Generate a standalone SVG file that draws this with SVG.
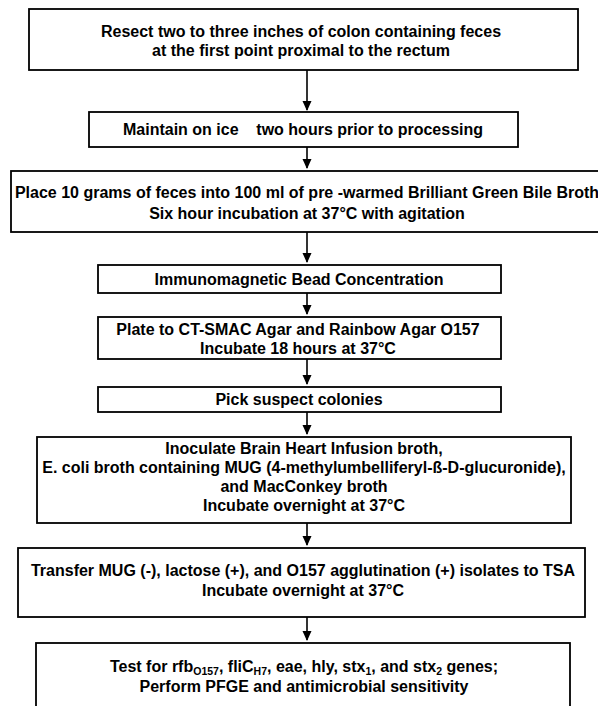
<svg xmlns="http://www.w3.org/2000/svg" width="598" height="706" viewBox="0 0 598 706">
<style>
.box{fill:#fff;stroke:#000;stroke-width:1.8}
.t{font-family:"Liberation Sans",Arial,sans-serif;font-weight:bold;font-size:16px;fill:#000;text-anchor:middle}
.sub{font-size:10.5px}
.c{stroke:#000;stroke-width:1.6;fill:none}
</style>
<defs>
<marker id="ah" markerWidth="10" markerHeight="10" refX="9" refY="5" orient="auto" markerUnits="userSpaceOnUse">
<path d="M0,0.5 L10,5 L0,9.5 Z" fill="#000"/>
</marker>
</defs>
<rect width="598" height="706" fill="#fff"/>
<g id="connectors">
<line class="c" x1="307" y1="70" x2="307" y2="110" marker-end="url(#ah)"/>
<line class="c" x1="307" y1="147" x2="307" y2="168" marker-end="url(#ah)"/>
<line class="c" x1="307" y1="232" x2="307" y2="262" marker-end="url(#ah)"/>
<line class="c" x1="307" y1="293" x2="307" y2="314" marker-end="url(#ah)"/>
<line class="c" x1="307" y1="359" x2="307" y2="384" marker-end="url(#ah)"/>
<line class="c" x1="307" y1="412" x2="307" y2="434" marker-end="url(#ah)"/>
<line class="c" x1="307" y1="523" x2="307" y2="545" marker-end="url(#ah)"/>
<line class="c" x1="307" y1="617" x2="307" y2="640" marker-end="url(#ah)"/>
</g>
<g id="n1">
<rect class="box" x="29" y="9" width="549" height="61"/>
<text class="t" x="301" y="37">Resect two to three inches of colon containing feces</text>
<text class="t" x="301" y="56">at the first point proximal to the rectum</text>
</g>
<g id="n2">
<rect class="box" x="89" y="112" width="429" height="35"/>
<text class="t" x="303" y="135" xml:space="preserve">Maintain on ice    two hours prior to processing</text>
</g>
<g id="n3">
<rect class="box" x="11" y="171" width="596" height="61"/>
<text class="t" x="307" y="198">Place 10 grams of feces into 100 ml of pre -warmed Brilliant Green Bile Broth</text>
<text class="t" x="307" y="219">Six hour incubation at 37°C with agitation</text>
</g>
<g id="n4">
<rect class="box" x="98" y="265" width="403" height="28"/>
<text class="t" x="299" y="285">Immunomagnetic Bead Concentration</text>
</g>
<g id="n5">
<rect class="box" x="98" y="317" width="403" height="42"/>
<text class="t" x="298" y="335">Plate to CT-SMAC Agar and Rainbow Agar O157</text>
<text class="t" x="298" y="354">Incubate 18 hours at 37°C</text>
</g>
<g id="n6">
<rect class="box" x="98" y="387" width="403" height="25"/>
<text class="t" x="299" y="405">Pick suspect colonies</text>
</g>
<g id="n7">
<rect class="box" x="37" y="437" width="534" height="86"/>
<text class="t" x="304" y="454">Inoculate Brain Heart Infusion broth,</text>
<text class="t" x="304" y="473">E. coli broth containing MUG (4-methylumbelliferyl-ß-D-glucuronide),</text>
<text class="t" x="304" y="492">and MacConkey broth</text>
<text class="t" x="304" y="511">Incubate overnight at 37°C</text>
</g>
<g id="n8">
<rect class="box" x="18" y="548" width="567" height="69"/>
<text class="t" x="303" y="576">Transfer MUG (-), lactose (+), and O157 agglutination (+) isolates to TSA</text>
<text class="t" x="303" y="596">Incubate overnight at 37°C</text>
</g>
<g id="n9">
<rect class="box" x="36" y="643" width="534" height="80"/>
<text class="t" x="304" y="672">Test for rfb<tspan class="sub" dy="3">O157</tspan><tspan dy="-3">, fliC</tspan><tspan class="sub" dy="3">H7</tspan><tspan dy="-3">, eae, hly, stx</tspan><tspan class="sub" dy="3">1</tspan><tspan dy="-3">, and stx</tspan><tspan class="sub" dy="3">2</tspan><tspan dy="-3"> genes;</tspan></text>
<text class="t" x="304" y="692">Perform PFGE and antimicrobial sensitivity</text>
</g>
</svg>
